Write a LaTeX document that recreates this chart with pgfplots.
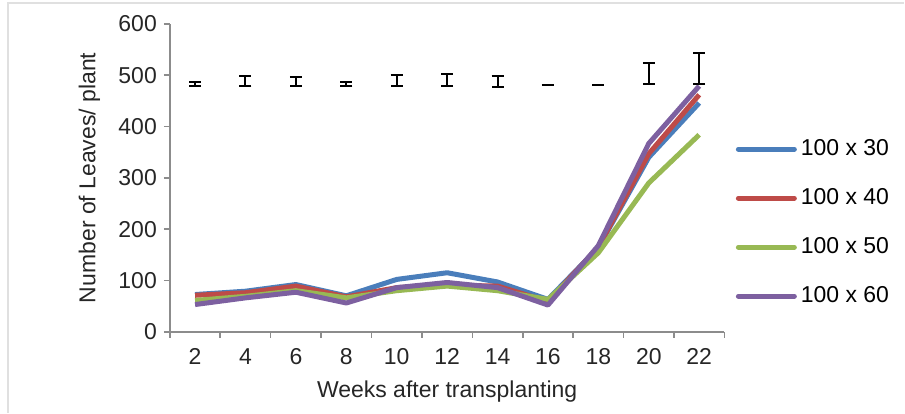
\documentclass[border=0pt]{standalone}
\usepackage{fontspec}
\setmainfont{Liberation Sans}
\usepackage{pgfplots}
\pgfplotsset{compat=1.18}
\definecolor{sA}{HTML}{4A7EBB}
\definecolor{sB}{HTML}{BE4B48}
\definecolor{sC}{HTML}{98B954}
\definecolor{sD}{HTML}{7D60A0}
\definecolor{axgray}{HTML}{8C8C8C}
\begin{document}
\begin{tikzpicture}
\begin{axis}[
  scale only axis, width=277.5pt, height=154pt,
  xmin=1, xmax=23, ymin=0, ymax=600,
  axis lines=left,
  axis line style={draw=axgray, line width=0.8pt, -},
  xtick={2,4,...,22},
  major x tick style={draw=none},
  minor xtick={1,3,...,23},
  minor x tick style={draw=axgray, line width=0.8pt},
  minor tick length=3pt,
  ytick={0,100,...,600},
  major y tick style={draw=axgray, line width=0.8pt},
  major tick length=3pt,
  tick align=outside,
  /pgf/number format/assume math mode=true,
  ticklabel style={font=\fontsize{11.5}{13}\selectfont, text=black!85},
  xticklabel style={yshift=-2pt},
  xlabel={Weeks after transplanting},
  ylabel={Number of Leaves/ plant},
  label style={font=\fontsize{11.5}{13}\selectfont, text=black!85},
  xlabel style={at={(axis description cs:0.5,-0.195)}, anchor=center},
  ylabel style={at={(axis description cs:-0.145,0.5)}, anchor=center},
  legend style={at={(axis description cs:1.02,0.354)}, anchor=west, draw=none, fill=none,
    font=\fontsize{11.5}{13}\selectfont, row sep=11pt, inner sep=0pt},
  legend cell align=left,
  legend image code/.code={\draw[#1, line width=2.5pt, line cap=round] (0pt,0pt) -- (28pt,0pt);},
  clip=false,
]
\addplot[sA, line width=2.5pt, line join=round] coordinates {
(2,72.5) (4,79) (6,92) (8,70) (10,102) (12,115) (14,97) (16,63) (18,164) (20,340) (22,446)};
\addlegendentry{100 x 30}
\addplot[sB, line width=2.5pt, line join=round] coordinates {
(2,71) (4,76) (6,89) (8,68) (10,86) (12,91) (14,89) (16,59) (18,165) (20,347) (22,462)};
\addlegendentry{100 x 40}
\addplot[sC, line width=2.5pt, line join=round] coordinates {
(2,61) (4,69) (6,80) (8,66) (10,80) (12,89) (14,80) (16,63) (18,154) (20,290) (22,384)};
\addlegendentry{100 x 50}
\addplot[sD, line width=2.5pt, line join=round] coordinates {
(2,53) (4,66) (6,77) (8,56) (10,86) (12,96) (14,86) (16,52) (18,168) (20,367) (22,479)};
\addlegendentry{100 x 60}
\addplot[draw=none, mark=none, forget plot,
  error bars/.cd, y dir=both, y explicit,
  error bar style={draw=black, line width=1pt},
  error mark options={draw=black, line width=1pt, mark size=3pt, rotate=90}]
  table[x=x, y=y, y error=e] {
x y e
2 483 3
4 489 10
6 487.5 8.5
8 483 4
10 490 11
12 490.5 11.5
14 488.5 10.5
16 481 0
18 482 0
20 503.5 21
22 513 30
};
\end{axis}
\draw[black!12, line width=0.75pt]
  ([shift={(-81pt,-40.5pt)}]current axis.south west) --
  ([shift={(-81pt,164.5pt)}]current axis.south west) --
  ([shift={(367.5pt,164.5pt)}]current axis.south west);
\path ([shift={(-85pt,-40.5pt)}]current axis.south west) rectangle
  ([shift={(367.5pt,166pt)}]current axis.south west);
\end{tikzpicture}
\end{document}
